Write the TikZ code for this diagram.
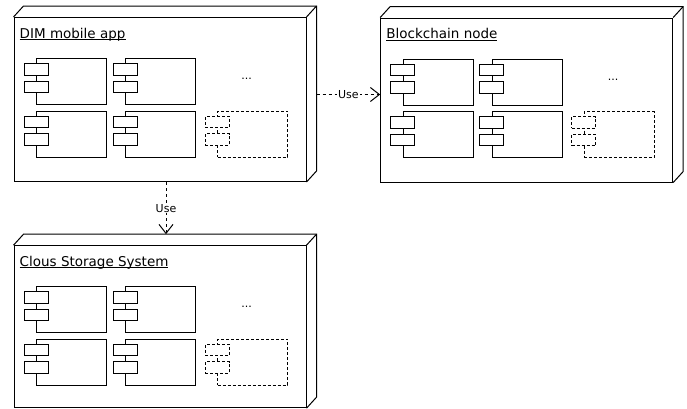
\documentclass[tikz,border=0pt]{standalone}
\usepackage{fontspec}
\setmainfont{DejaVu Sans}
\usetikzlibrary{arrows.meta}
\tikzstyle{device}=[draw, line width=1pt, minimum width=292pt, minimum height=164pt, inner sep=0pt]
\tikzstyle{component}=[draw, line width=1pt, fill=white, minimum width=70pt, minimum height=46pt, inner sep=0pt]
\tikzstyle{port}=[draw, line width=1pt, fill=white, minimum width=24pt, minimum height=11.5pt, inner sep=0pt]
\tikzstyle{loose dash}=[dash pattern=on 3pt off 2pt]
\tikzstyle{dependency}=[line width=1pt, dash pattern=on 3pt off 3pt, -{Straight Barb[length=9pt, width=14pt]}]
\tikzstyle{dependency label}=[fill=white, inner sep=1pt, font=\fontsize{11}{13}\selectfont]
\tikzstyle{title}=[anchor=base west, inner sep=0pt, font=\fontsize{13.5}{16}\selectfont]

\begin{document}
\begin{tikzpicture}[x=1pt, y=-1pt]
      \useasboundingbox (0, 0) rectangle (687, 408);
      \node[device] (app) at (160, 99.5) {};
      \node[device] (chain) at (526.7, 100) {};
      \node[device, minimum height=162pt] (cloud) at (160, 326.7) {};

      \foreach \dev/\devtitle in {app/DIM mobile app, chain/Blockchain node, cloud/Clous Storage System} {
        % depth of the box
        \draw[line width=1pt] (\dev.north west) -- ++(10, -11)
          -| ([shift={(10, -11)}]\dev.south east) -- (\dev.south east);
        \draw[line width=1pt] (\dev.north east) -- ++(10, -11);
        \node[title] (\dev-title) at ([shift={(6, 21)}]\dev.north west) {\underline{\smash{\devtitle}}};

        \foreach \cx/\cy [count=\i] in {58/64.5, 147/64.5, 58/117, 147/117} {
          \node[component] (\dev-c\i) at ([shift={(\cx, \cy)}]\dev.north west) {};
          \node[port] (\dev-c\i-a) at ([shift={(0, 11.5)}]\dev-c\i.north west) {};
          \node[port] (\dev-c\i-b) at ([shift={(0, 29)}]\dev-c\i.north west) {};
        }
        \node[component, loose dash] (\dev-c5) at ([shift={(239, 117)}]\dev.north west) {};
        \node[port, loose dash] (\dev-c5-a) at ([shift={(0, 11.5)}]\dev-c5.north west) {};
        \node[port, loose dash] (\dev-c5-b) at ([shift={(0, 29)}]\dev-c5.north west) {};
        \node[font=\fontsize{11}{13}\selectfont] (\dev-more) at ([shift={(233, 62)}]\dev.north west) {...};
      }

      \coordinate (app-side) at ([shift={(10, -5)}]app.east);
      \coordinate (app-foot) at ([shift={(6, 0)}]app.south);
      \coordinate (cloud-top) at ([shift={(0, -11)}]cloud.north);
      \draw[dependency] (app-side) -- (app-side -| chain.west)
        node[dependency label, midway] {Use};
      \draw[dependency] (app-foot) -- (app-foot |- cloud-top)
        node[dependency label, midway] {Use};
    \end{tikzpicture}
\end{document}
